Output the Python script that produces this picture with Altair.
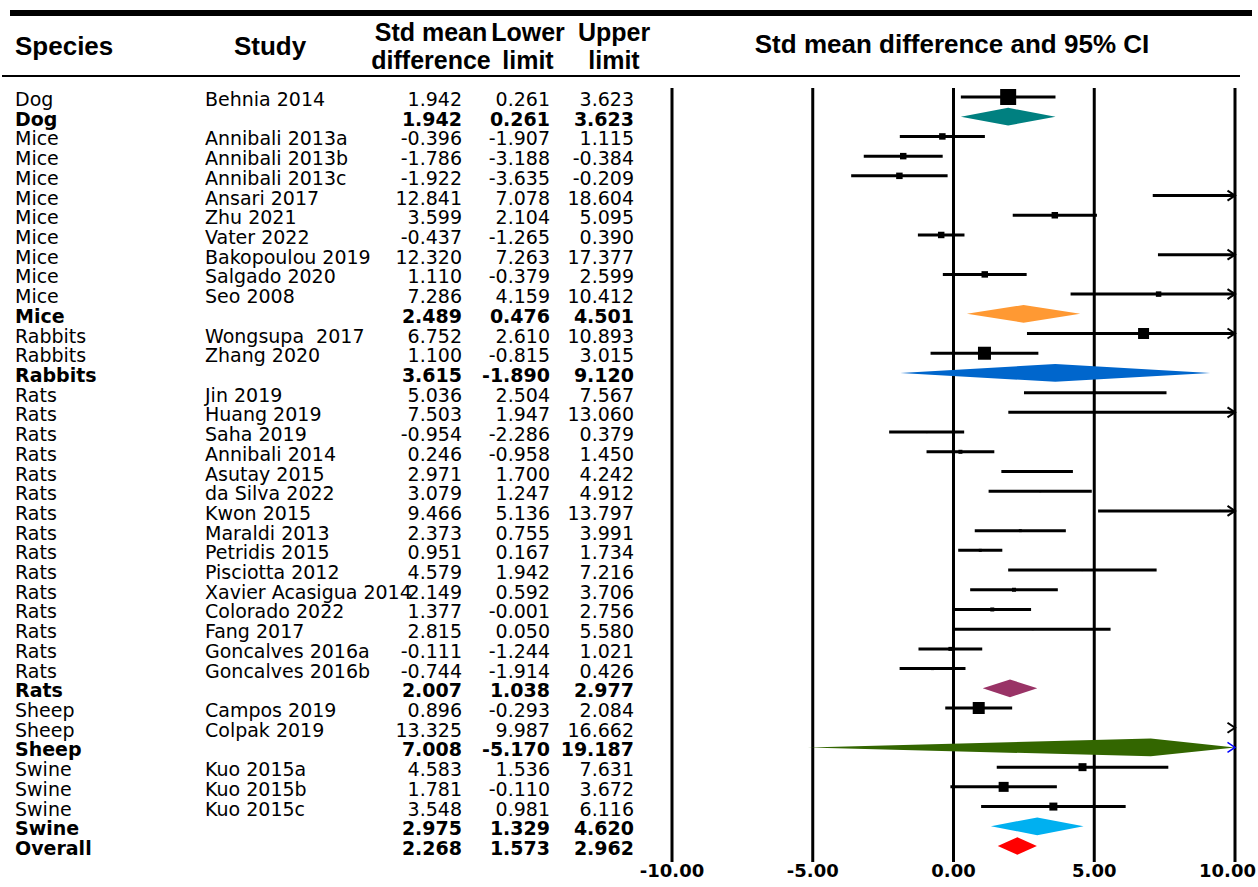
import altair as alt
import pandas as pd

# ---------------- data ----------------
species = ["Dog", "Dog",
           "Mice", "Mice", "Mice", "Mice", "Mice", "Mice", "Mice", "Mice", "Mice", "Mice",
           "Rabbits", "Rabbits", "Rabbits",
           "Rats", "Rats", "Rats", "Rats", "Rats", "Rats", "Rats", "Rats", "Rats", "Rats",
           "Rats", "Rats", "Rats", "Rats", "Rats", "Rats",
           "Sheep", "Sheep", "Sheep",
           "Swine", "Swine", "Swine", "Swine",
           "Overall"]
study = ["Behnia 2014", "",
         "Annibali 2013a", "Annibali 2013b", "Annibali 2013c", "Ansari 2017", "Zhu 2021",
         "Vater 2022", "Bakopoulou 2019", "Salgado 2020", "Seo 2008", "",
         "Wongsupa \u00a02017", "Zhang 2020", "",
         "Jin 2019", "Huang 2019", "Saha 2019", "Annibali 2014", "Asutay 2015", "da Silva 2022",
         "Kwon 2015", "Maraldi 2013", "Petridis 2015", "Pisciotta 2012", "Xavier Acasigua 2014",
         "Colorado 2022", "Fang 2017", "Goncalves 2016a", "Goncalves 2016b", "",
         "Campos 2019", "Colpak 2019", "",
         "Kuo 2015a", "Kuo 2015b", "Kuo 2015c", "",
         ""]
est = [1.942, 1.942,
       -0.396, -1.786, -1.922, 12.841, 3.599, -0.437, 12.320, 1.110, 7.286, 2.489,
       6.752, 1.100, 3.615,
       5.036, 7.503, -0.954, 0.246, 2.971, 3.079, 9.466, 2.373, 0.951, 4.579, 2.149,
       1.377, 2.815, -0.111, -0.744, 2.007,
       0.896, 13.325, 7.008,
       4.583, 1.781, 3.548, 2.975,
       2.268]
lower = [0.261, 0.261,
         -1.907, -3.188, -3.635, 7.078, 2.104, -1.265, 7.263, -0.379, 4.159, 0.476,
         2.610, -0.815, -1.890,
         2.504, 1.947, -2.286, -0.958, 1.700, 1.247, 5.136, 0.755, 0.167, 1.942, 0.592,
         -0.001, 0.050, -1.244, -1.914, 1.038,
         -0.293, 9.987, -5.170,
         1.536, -0.110, 0.981, 1.329,
         1.573]
upper = [3.623, 3.623,
         1.115, -0.384, -0.209, 18.604, 5.095, 0.390, 17.377, 2.599, 10.412, 4.501,
         10.893, 3.015, 9.120,
         7.567, 13.060, 0.379, 1.450, 4.242, 4.912, 13.797, 3.991, 1.734, 7.216, 3.706,
         2.756, 5.580, 1.021, 0.426, 2.977,
         2.084, 16.662, 19.187,
         7.631, 3.672, 6.116, 4.620,
         2.962]
kind = ["study", "summary",
        "study", "study", "study", "study", "study", "study", "study", "study", "study", "summary",
        "study", "study", "summary",
        "study", "study", "study", "study", "study", "study", "study", "study", "study", "study",
        "study", "study", "study", "study", "study", "summary",
        "study", "study", "summary",
        "study", "study", "study", "summary",
        "summary"]
# relative study weight (drives the square marker area)
weight = [256, 0,
          42, 42, 42, 0, 42, 42, 0, 42, 30, 0,
          121, 169, 0,
          4, 1, 4, 16, 9, 4, 4, 9, 9, 4, 16, 16, 4, 16, 9, 0,
          144, 1, 0,
          64, 100, 64, 0,
          0]

group_names = ["Dog", "Mice", "Rabbits", "Rats", "Sheep", "Swine", "Overall"]
group_colors = ["#008080", "#FF9933", "#0066CC", "#993366", "#336600", "#00B0F0", "#FF0000"]
ticks = [-10, -5, 0, 5, 10]

# ---------------- tables ----------------
n = len(species)
df = pd.DataFrame({
    "row": list(range(n)), "species": species, "study": study,
    "est": est, "lower": lower, "upper": upper, "kind": kind, "weight": weight,
})
for c in ("est", "lower", "upper"):
    df[c + "_s"] = [f"{v:.3f}" for v in df[c]]
studies = df[df.kind == "study"]
summ = df[df.kind == "summary"]

H = 0.45  # diamond half-height in row units
drows = []
for _, r in summ.iterrows():
    lo = max(r.lower, -10.0)
    hi = min(r.upper, 10.0)
    drows.append({"group": r.species, "x": lo, "y1": r.row, "y2": r.row})
    drows.append({"group": r.species, "x": r.est, "y1": r.row - H, "y2": r.row + H})
    drows.append({"group": r.species, "x": hi, "y1": r.row, "y2": r.row})
diam = pd.DataFrame(drows)
tick_df = pd.DataFrame({"t": ticks, "lab": [f"{t:.2f}" for t in ticks]})

XS = alt.Scale(domain=[-10, 10], range=[672, 1235])
YS = alt.Scale(domain=[0, n - 1], range=[97, 846])

FONT = "DejaVu Sans"
HEAD = "Liberation Sans"
FS = 19


def X(f):
    return alt.X(f, scale=XS, axis=None)


def Y(f):
    return alt.Y(f, scale=YS, axis=None)


def label(txt, x, y, size=25, align="center"):
    return alt.Chart(pd.DataFrame({"t": [txt]})).mark_text(
        align=align, baseline="middle", fontSize=size, fontWeight="bold", font=HEAD, color="black"
    ).encode(x=alt.value(x), y=alt.value(y), text="t:N")


ARROW = "M -1.5 -1 L 0 0 L -1.5 1"

# rules (frame)
top_line = alt.Chart(pd.DataFrame({"a": [0]})).mark_rule(color="black", strokeWidth=6).encode(
    x=alt.value(10), x2=alt.value(1252), y=alt.value(13))
thin_line = alt.Chart(pd.DataFrame({"a": [0]})).mark_rule(color="black", strokeWidth=2).encode(
    x=alt.value(2), x2=alt.value(1240), y=alt.value(76))

grid = alt.Chart(tick_df).mark_rule(color="black", strokeWidth=3).encode(
    x=X("t:Q"), y=alt.value(88), y2=alt.value(862))
tick_lab = alt.Chart(tick_df).transform_filter("datum.t < 10").mark_text(
    font=FONT, fontSize=18, fontWeight="bold", baseline="middle", align="center", color="black"
).encode(x=X("t:Q"), y=alt.value(872), text="lab:N")
tick_lab_last = alt.Chart(tick_df).transform_filter("datum.t >= 10").mark_text(
    font=FONT, fontSize=18, fontWeight="bold", baseline="middle", align="right", color="black",
    dx=21
).encode(x=X("t:Q"), y=alt.value(872), text="lab:N")

ci = alt.Chart(studies).transform_calculate(
    lo="max(datum.lower, -10)", hi="min(datum.upper, 10)"
).mark_rule(color="black", strokeWidth=3).encode(x=X("lo:Q"), x2="hi:Q", y=Y("row:Q"))

squares = alt.Chart(studies).transform_filter(
    "datum.est <= 10 && datum.est >= -10"
).mark_square(color="black", opacity=1).encode(
    x=X("est:Q"), y=Y("row:Q"),
    size=alt.Size("weight:Q", scale=alt.Scale(domain=[0, 256], range=[0, 256]), legend=None))

arrows = alt.Chart(studies).transform_filter("datum.upper > 10").transform_calculate(
    xe="10").mark_point(shape=ARROW, filled=False, color="black", strokeWidth=2, size=100,
                        opacity=1).encode(x=X("xe:Q"), y=Y("row:Q"))

diamonds = alt.Chart(diam).mark_area(orient="vertical", opacity=1).encode(
    x=X("x:Q"), y=Y("y1:Q"), y2="y2:Q",
    color=alt.Color("group:N", scale=alt.Scale(domain=group_names, range=group_colors), legend=None),
    detail="group:N")

sum_arrow = alt.Chart(summ).transform_filter("datum.upper > 10").transform_calculate(
    xe="10").mark_point(shape=ARROW, filled=False, color="#0000FF", strokeWidth=1.5, size=100,
                        opacity=1).encode(x=X("xe:Q"), y=Y("row:Q"))


def col_text(field, x, align):
    layers = []
    for k, w in (("study", "normal"), ("summary", "bold")):
        layers.append(alt.Chart(df).transform_filter(f"datum.kind == '{k}'").mark_text(
            font=FONT, fontSize=FS, fontWeight=w, baseline="middle", align=align,
            color="black", dy=3
        ).encode(x=alt.value(x), y=Y("row:Q"), text=field))
    return layers


texts = (col_text("species:N", 15, "left") + col_text("study:N", 205, "left")
         + col_text("est_s:N", 462, "right") + col_text("lower_s:N", 550, "right")
         + col_text("upper_s:N", 634, "right"))

headers = [
    label("Species", 15, 47, align="left", size=26),
    label("Study", 270, 47, size=26),
    label("Std mean", 431, 33), label("difference", 431, 61),
    label("Lower", 528, 33), label("limit", 528, 61),
    label("Upper", 614, 33), label("limit", 614, 61),
    label("Std mean difference and 95% CI", 952, 45, size=26),
]

chart = alt.layer(
    top_line, thin_line, grid, tick_lab, tick_lab_last, ci, squares, arrows, diamonds, sum_arrow,
    *texts, *headers
).properties(
    width=1258, height=887, autosize="none", padding=0, background="white"
).configure_view(stroke=None)

chart.save("out.html", embed_options={"renderer": "svg", "actions": False})
